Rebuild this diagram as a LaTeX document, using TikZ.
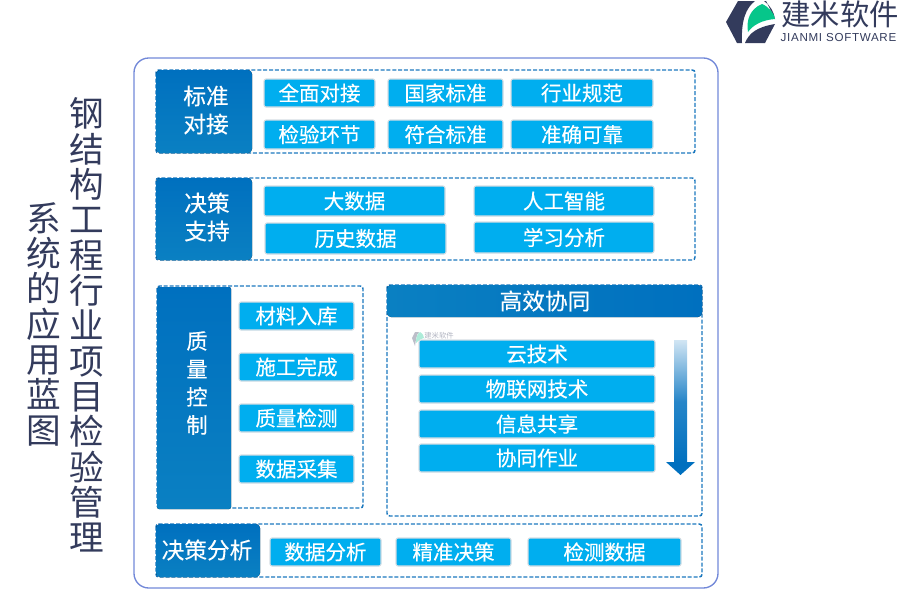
\documentclass[tikz,border=0pt]{standalone}
\usepackage{fontspec}
\setmainfont{Noto Sans CJK SC}
\newfontfamily\latinf[LetterSpace=6]{Liberation Sans}
\newfontfamily\boldish[FakeBold=0.3]{Noto Sans CJK SC}
\definecolor{dashb}{HTML}{1B78BE}
\definecolor{btn}{HTML}{00AEEF}
\definecolor{btnedge}{HTML}{D5DDE3}
\definecolor{hdtop}{HTML}{0070BF}
\definecolor{hdbot}{HTML}{0A80C2}
\definecolor{navy}{HTML}{333B5C}
\definecolor{logogreen}{HTML}{06C68A}
\definecolor{outerb}{HTML}{7288D8}
\tikzset{
 x=0.75pt,y=-0.75pt,
 dashbox/.style={draw=dashb,line width=1.1pt,dash pattern=on 3pt off 1.4pt,rounded corners=2pt},
 header/.style={rounded corners=3pt,top color=hdtop,bottom color=hdbot,draw=none},
 btnbox/.style={fill=btn,draw=btnedge,line width=0.8pt,rounded corners=1.5pt},
 lab/.style={text=white,font=\boldish\fontsize{15.4pt}{15.4pt}\selectfont,inner sep=0pt},
 hlab/.style={text=white,font=\boldish\fontsize{17pt}{21pt}\selectfont,inner sep=0pt,align=center},
 titlelab/.style={text=navy,font=\fontsize{26pt}{26.5pt}\selectfont,inner sep=0pt,align=center},
}
\newcommand{\boxat}[6]{% name, x1,y1,x2,y2,text
 \draw[btnbox] (#2,#3) rectangle (#4,#5);
 \node[lab] (#1) at ({(#2+#4)/2},{(#3+#5)/2}) {#6};
}
\begin{document}
\begin{tikzpicture}
\useasboundingbox (0,0) rectangle (900,600);
% title
\node[titlelab] (t1) at (87,325) {钢\\结\\构\\工\\程\\行\\业\\项\\目\\检\\验\\管\\理};
\node[titlelab] (t2) at (44,324) {系\\统\\的\\应\\用\\蓝\\图};
% logo
\fill[navy] (726,22) -- (738,1) -- (755,1) .. controls (746,8) and (741,20) .. (742,43) -- (737,43) -- cycle;
\fill[navy] (745,43) .. controls (749,33) and (757,27) .. (775,24) -- (765,43) -- cycle;
\fill[navy] (764,1) -- (766,1) -- (775,19) .. controls (774,12) and (770,5) .. (764,1) -- cycle;
\fill[logogreen] (762,4) .. controls (769,7) and (774,13) .. (775,19) .. controls (762,20) and (753,25) .. (748,32) .. controls (746,20) and (750,9) .. (762,4) -- cycle;
\node[text=navy,font=\fontsize{22pt}{22pt}\selectfont,inner sep=0pt] (logot) at (840,14) {建米软件};
\node[text=navy,font=\latinf\fontsize{8.7pt}{8.7pt}\selectfont,inner sep=0pt] (logos) at (838.5,38) {JIANMI SOFTWARE};
% outer
\draw[outerb,line width=1pt,rounded corners=11pt] (134,58) rectangle (718,588);
% box 1
\draw[dashbox] (156,70) rectangle (695,153);
\fill[header] (156,70) rectangle (252,153);
\node[hlab] (h1) at (206,110) {标准\\对接};
\boxat{a1}{264}{79}{375}{107}{全面对接}
\boxat{a2}{388}{79}{503}{107}{国家标准}
\boxat{a3}{511}{79}{653}{107}{行业规范}
\boxat{a4}{264}{120}{375}{149}{检验环节}
\boxat{a5}{388}{120}{503}{149}{符合标准}
\boxat{a6}{511}{120}{653}{149}{准确可靠}
% box 2
\draw[dashbox] (156,178) rectangle (695,260);
\fill[header] (156,178) rectangle (252,260);
\node[hlab] (h2) at (207,217) {决策\\支持};
\boxat{b1}{264}{186}{445}{216}{大数据}
\boxat{b2}{265}{223}{446}{254}{历史数据}
\boxat{b3}{474}{186}{654}{216}{人工智能}
\boxat{b4}{474}{222}{654}{253}{学习分析}
% box 3
\draw[dashbox] (157,286) rectangle (363,508);
\fill[header,rounded corners=1.5pt] (157,287) rectangle (231,509);
\node[hlab,font=\boldish\fontsize{16pt}{21pt}\selectfont] (h3) at (197,383) {质\\量\\控\\制};
\boxat{c1}{239}{302}{354}{330}{材料入库}
\boxat{c2}{239}{353}{354}{381}{施工完成}
\boxat{c3}{239}{404}{354}{432}{质量检测}
\boxat{c4}{239}{455}{354}{483}{数据采集}
% box 4
\draw[dashbox] (387,285) rectangle (702,516);
\fill[rounded corners=3pt,left color=hdbot,right color=hdtop] (387,285) rectangle (702,317);
\node[hlab] (h4) at (545,301) {高效协同};
% watermark
\begin{scope}[opacity=.55]
\fill[navy!60] (412,338) -- (415,332) -- (419,332) .. controls (416,335) and (416,340) .. (415,346) -- cycle;
\fill[logogreen!60] (420,332) .. controls (423,334) and (424,336) .. (424,338) .. controls (420,339) and (418,341) .. (416,343) .. controls (416,338) and (417,334) .. (420,332) -- cycle;
\node[text=navy!70,font=\fontsize{5.5pt}{5.5pt}\selectfont,inner sep=0pt] (wm) at (439,336) {建米软件};
\fill[navy!35] (425,341) rectangle (453,343);
\end{scope}
\boxat{d1}{419}{340}{655}{368}{云技术}
\boxat{d2}{419}{375}{655}{403}{物联网技术}
\boxat{d3}{419}{410}{655}{438}{信息共享}
\boxat{d4}{419}{444}{655}{472}{协同作业}
\fill[top color=hdtop!18,bottom color=hdtop,middle color=hdtop!85] (674,340) rectangle (687,463);
\fill[hdtop] (666,462) -- (695,462) -- (680.5,475) -- cycle;
% box 5
\draw[dashbox] (156,524) rectangle (702,577);
\fill[header] (156,524) rectangle (260,577);
\node[hlab] (h5) at (207,550) {决策分析};
\boxat{e1}{270}{538}{381}{566}{数据分析}
\boxat{e2}{396}{538}{511}{566}{精准决策}
\boxat{e3}{528}{538}{681}{566}{检测数据}
\end{tikzpicture}
\end{document}
